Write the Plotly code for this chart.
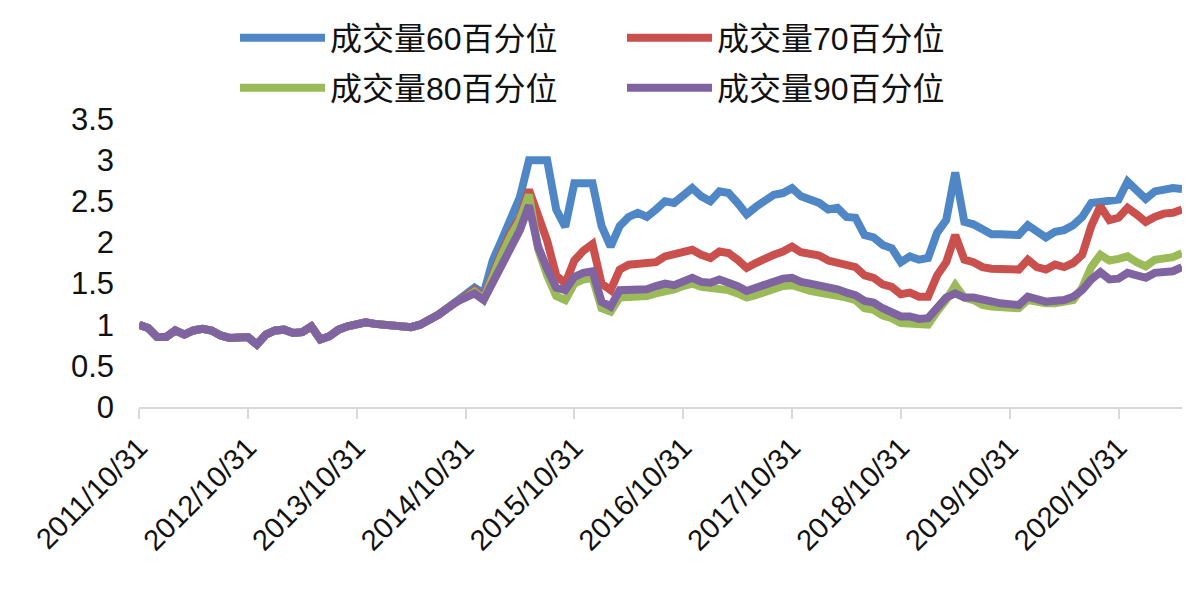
import pandas as pd
import plotly.graph_objects as go

dates = [d.strftime("%Y/%m/%d") for d in pd.date_range("2011-10-31", "2021-05-31", freq="ME")]

common = [1.00, 0.96, 0.85, 0.85, 0.93, 0.88, 0.93, 0.95, 0.93, 0.87,
          0.84, 0.84, 0.85, 0.76, 0.88, 0.93, 0.94, 0.90, 0.91, 0.98,
          0.82, 0.86, 0.94, 0.98, 1.00, 1.03, 1.01, 1.00, 1.01, 0.99,
          0.97, 1.00, 1.05, 1.12, 1.20, 1.28]

p60 = common + [1.36, 1.45, 1.38, 1.78, 2.03, 2.31, 2.55, 3.00, 3.00, 3.00,
                2.40, 2.19, 2.72, 2.72, 2.72, 2.20, 1.95, 2.20, 2.31, 2.36,
                2.31, 2.40, 2.50, 2.48, 2.56, 2.66, 2.56, 2.50, 2.62, 2.60,
                2.48, 2.34, 2.43, 2.52, 2.58, 2.60, 2.66, 2.56, 2.52, 2.48,
                2.40, 2.42, 2.31, 2.30, 2.09, 2.06, 1.97, 1.93, 1.76, 1.83,
                1.79, 1.81, 2.12, 2.27, 2.85, 2.25, 2.22, 2.15, 2.10, 2.10,
                2.10, 2.09, 2.21, 2.13, 2.06, 2.13, 2.15, 2.21, 2.31, 2.48,
                2.50, 2.50, 2.52, 2.74, 2.64, 2.53, 2.62, 2.65, 2.66, 2.65]

p70 = common + [1.34, 1.42, 1.33, 1.62, 1.88, 2.12, 2.30, 2.64, 2.30, 2.02,
                1.60, 1.50, 1.78, 1.90, 1.98, 1.50, 1.42, 1.67, 1.73, 1.74,
                1.75, 1.76, 1.83, 1.85, 1.87, 1.91, 1.85, 1.81, 1.89, 1.87,
                1.79, 1.69, 1.75, 1.81, 1.85, 1.89, 1.95, 1.88, 1.86, 1.84,
                1.78, 1.76, 1.72, 1.70, 1.60, 1.57, 1.49, 1.46, 1.37, 1.39,
                1.34, 1.34, 1.60, 1.76, 2.09, 1.79, 1.76, 1.70, 1.68, 1.67,
                1.67, 1.67, 1.79, 1.70, 1.67, 1.73, 1.70, 1.75, 1.85, 2.20,
                2.44, 2.27, 2.30, 2.42, 2.34, 2.25, 2.31, 2.35, 2.36, 2.40]

p80 = common + [1.33, 1.40, 1.31, 1.60, 1.85, 2.08, 2.27, 2.58, 1.92, 1.60,
                1.35, 1.30, 1.50, 1.55, 1.57, 1.20, 1.16, 1.33, 1.33, 1.33,
                1.35, 1.38, 1.40, 1.43, 1.47, 1.50, 1.46, 1.45, 1.45, 1.42,
                1.38, 1.33, 1.36, 1.40, 1.44, 1.47, 1.48, 1.44, 1.41, 1.39,
                1.36, 1.35, 1.33, 1.30, 1.20, 1.18, 1.11, 1.08, 1.02, 1.02,
                1.00, 1.00, 1.16, 1.30, 1.48, 1.33, 1.30, 1.24, 1.22, 1.21,
                1.20, 1.20, 1.30, 1.27, 1.26, 1.26, 1.27, 1.30, 1.45, 1.70,
                1.85, 1.78, 1.80, 1.83, 1.76, 1.71, 1.79, 1.80, 1.82, 1.87]

p90 = common + [1.33, 1.38, 1.30, 1.52, 1.75, 1.97, 2.15, 2.45, 1.95, 1.68,
                1.45, 1.42, 1.58, 1.63, 1.65, 1.28, 1.22, 1.42, 1.42, 1.41,
                1.43, 1.47, 1.50, 1.48, 1.52, 1.57, 1.52, 1.51, 1.55, 1.52,
                1.47, 1.41, 1.45, 1.48, 1.53, 1.56, 1.57, 1.52, 1.50, 1.48,
                1.45, 1.43, 1.39, 1.36, 1.29, 1.27, 1.20, 1.16, 1.10, 1.10,
                1.07, 1.08, 1.22, 1.33, 1.38, 1.33, 1.33, 1.30, 1.28, 1.26,
                1.25, 1.24, 1.34, 1.30, 1.28, 1.29, 1.30, 1.34, 1.42, 1.55,
                1.64, 1.55, 1.56, 1.63, 1.60, 1.57, 1.63, 1.63, 1.65, 1.70]

names = ["成交量60百分位", "成交量70百分位", "成交量80百分位", "成交量90百分位"]
series = [p60, p70, p80, p90]
colors = ["#4f86c6", "#c9504d", "#9bbb59", "#8064a2"]
tick_idx = list(range(0, len(dates), 12))

W, H = 1203, 615
FONT = "Liberation Sans, Arial, Noto Sans CJK SC, sans-serif"

fig = go.Figure()
legend_pos = [(227, 30), (614, 30), (227, 80), (614, 80)]
for k, (nm, ys, c) in enumerate(zip(names, series, colors)):
    lg = "legend" if k == 0 else f"legend{k+1}"
    fig.add_trace(go.Scatter(x=dates, y=ys, name=nm, mode="lines",
                             line=dict(color=c, width=8), legend=lg,
                             showlegend=True))

layout_legends = {}
for k, (px, py) in enumerate(legend_pos):
    lg = "legend" if k == 0 else f"legend{k+1}"
    layout_legends[lg] = dict(
        x=px / W, y=1 - py / H, xref="container", yref="container",
        xanchor="left", yanchor="middle", orientation="h",
        itemwidth=85, bgcolor="rgba(0,0,0,0)", borderwidth=0,
        font=dict(family=FONT, size=32, color="#111111"),
    )

fig.update_layout(
    width=W, height=H, showlegend=True,
    margin=dict(l=131, r=29, t=111, b=216),
    plot_bgcolor="white", paper_bgcolor="white",
    font=dict(family=FONT, size=29, color="#111111"),
    xaxis=dict(type="category", range=[0, len(dates) - 1], automargin=False,
               tickmode="array", tickvals=[dates[i] for i in tick_idx],
               ticktext=[dates[i] for i in tick_idx],
               tickangle=-45, showgrid=False, showline=True,
               linecolor="#d9d9d9", linewidth=2,
               ticks="outside", ticklen=10, tickcolor="#d9d9d9", tickwidth=2,
               tickfont=dict(family=FONT, size=29, color="#111111")),
    yaxis=dict(range=[0, 3.5], dtick=0.5, showgrid=False, showline=False,
               zeroline=False, ticks="", ticklabelstandoff=24, automargin=False,
               tickfont=dict(family=FONT, size=31, color="#111111")),
    **layout_legends,
)

fig.write_html("out.html")
